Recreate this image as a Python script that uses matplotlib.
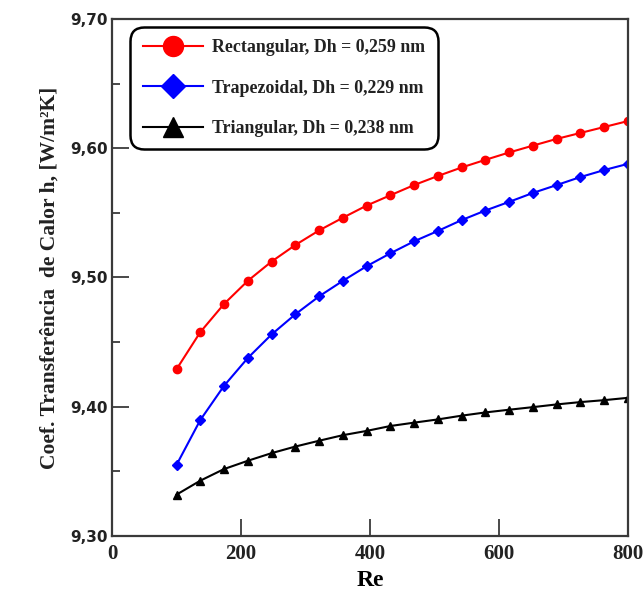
import numpy as np
import matplotlib
matplotlib.use("Agg")
import matplotlib.pyplot as plt
from matplotlib.ticker import MultipleLocator, FixedLocator

# ---- data ----
re_values = np.linspace(100, 800, 20)
h_rect = [9.429, 9.4577, 9.4795, 9.4974, 9.5123, 9.5251, 9.5364, 9.5462, 9.5556, 9.5636,
          9.5715, 9.5785, 9.5851, 9.5910, 9.5967, 9.6020, 9.6072, 9.6118, 9.6164, 9.6210]
h_trap = [9.355, 9.3897, 9.4162, 9.4377, 9.4559, 9.4715, 9.4854, 9.4974, 9.5087, 9.5187,
          9.5280, 9.5360, 9.5444, 9.5518, 9.5585, 9.5654, 9.5715, 9.5777, 9.5831, 9.5879]
h_tri = [9.332, 9.3428, 9.3518, 9.3582, 9.3641, 9.3692, 9.3737, 9.3780, 9.3813, 9.3851,
         9.3877, 9.3902, 9.3931, 9.3956, 9.3977, 9.3997, 9.4018, 9.4036, 9.4051, 9.4069]
labels = ["Rectangular, Dh = 0,259 nm",
          "Trapezoidal, Dh = 0,229 nm",
          "Triangular, Dh = 0,238 nm"]
x_ticks = [0, 200, 400, 600, 800]
y_ticks = [9.30, 9.40, 9.50, 9.60, 9.70]
y_tick_labels = ["9,30", "9,40", "9,50", "9,60", "9,70"]

serif = ["Liberation Serif", "DejaVu Serif"]

fig = plt.figure(figsize=(6.43, 5.93), dpi=100)
ax = fig.add_axes([0.1742, 0.0961, 0.8025, 0.872])

ax.plot(re_values, h_rect, color="#ff0000", lw=1.5, marker="o", ms=6, label=labels[0])
ax.plot(re_values, h_trap, color="#0000ff", lw=1.5, marker="D", ms=5.3, label=labels[1])
ax.plot(re_values, h_tri, color="black", lw=1.5, marker="^", ms=6, label=labels[2])

ax.set_xlim(0, 800)
ax.set_ylim(9.30, 9.70)
ax.xaxis.set_major_locator(FixedLocator(x_ticks))
ax.yaxis.set_major_locator(FixedLocator(y_ticks))
ax.yaxis.set_minor_locator(MultipleLocator(0.05))
ax.set_yticklabels(y_tick_labels)

for sp in ax.spines.values():
    sp.set_linewidth(1.6)
    sp.set_color("#3a3a3a")

ax.tick_params(axis="both", which="major", direction="in", length=12, width=1.3, color="#3a3a3a")
ax.tick_params(axis="y", which="minor", direction="in", length=6, width=1.3, color="#3a3a3a")
ax.tick_params(axis="y", which="major", pad=3)
ax.tick_params(axis="x", which="major", pad=6)

for t in ax.get_yticklabels():
    t.set_fontfamily("DejaVu Sans")
    t.set_fontweight("bold")
    t.set_fontsize(11)
    t.set_color("#222222")
for t in ax.get_xticklabels():
    t.set_fontfamily(serif)
    t.set_fontweight("bold")
    t.set_fontsize(15)
    t.set_color("#222222")

ax.set_xlabel("Re", fontfamily=serif, fontweight="bold", fontsize=17, labelpad=4)
ax.set_ylabel("Coef. Transferência  de Calor h, [W/m²K]", fontfamily=serif,
              fontweight="bold", fontsize=15.5, labelpad=8, color="#222222")

leg = ax.legend(loc="upper left", bbox_to_anchor=(0.035, 0.985), borderaxespad=0,
                prop={"family": serif, "weight": "bold", "size": 12.9},
                markerscale=2.4, handlelength=3.35, labelspacing=1.3,
                borderpad=0.7, handletextpad=0.55, fancybox=True, framealpha=1)
frame = leg.get_frame()
frame.set_edgecolor("black")
frame.set_linewidth(1.8)
frame.set_boxstyle("round,pad=0,rounding_size=0.8")
for t in leg.get_texts():
    t.set_color("#222222")

fig.savefig("out.png", dpi=100)
